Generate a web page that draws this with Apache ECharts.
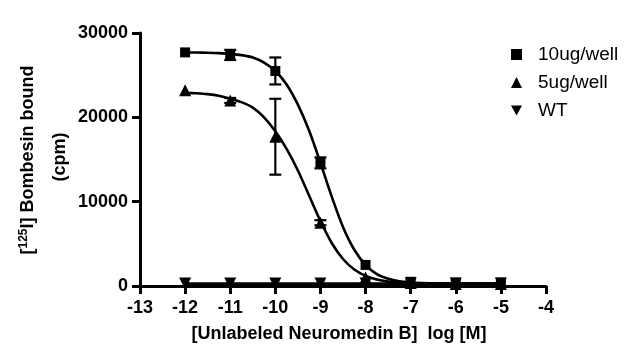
<!DOCTYPE html>
<html>
<head>
<meta charset="utf-8">
<script src="https://cdn.jsdelivr.net/npm/echarts@6/dist/echarts.min.js"></script>
<style>html,body{margin:0;padding:0;background:#fff}#c{width:640px;height:356px}</style>
</head>
<body>
<div id="c"></div>
<script>
// measured points (log[M], cpm)
var doseX = [-12, -11, -10, -9, -8, -7, -6, -5];
var pts10 = [27700, 27400, 25500, 14600, 2500, 500, 400, 400];
var err10 = [0, 600, 1600, 650, 0, 0, 0, 0];
var pts5 = [23200, 22000, 17700, 7500, 1000, 350, 250, 250];
var err5 = [0, 300, 4500, 300, 0, 0, 0, 0];
var ptsWT = [300, 300, 300, 300, 300, 300, 300, 300];
// fitted curves (every 0.25 log unit)
var curveX = [-12, -11.75, -11.5, -11.25, -11, -10.75, -10.5, -10.25, -10, -9.75, -9.5, -9.25, -9, -8.75, -8.5, -8.25, -8, -7.75, -7.5, -7.25, -7, -6.75, -6.5, -6.25, -6, -5.75, -5.5, -5.25, -5];
var curve10 = [27700, 27690, 27660, 27610, 27530, 27380, 27100, 26500, 25500, 23900, 21500, 18400, 14600, 10600, 7000, 4300, 2500, 1400, 850, 550, 420, 360, 330, 310, 300, 300, 300, 300, 300];
var curve5 = [22900, 22850, 22750, 22550, 22200, 21800, 21150, 20000, 18350, 16250, 13700, 10700, 7700, 5100, 3200, 1950, 1200, 760, 520, 390, 330, 300, 285, 275, 270, 270, 270, 270, 270];
var curveWT = [250, 250, 250, 250, 250, 250, 250, 250, 250, 250, 250, 250, 250, 250, 250, 250, 250, 250, 250, 250, 250, 250, 250, 250, 250, 250, 250, 250, 250];
var xTicks = {min: -13, max: -4, step: 1};
var yTicks = {min: 0, max: 30000, step: 10000};
var seriesNames = ['10ug/well', '5ug/well', 'WT'];
var xTitle = '[Unlabeled Neuromedin B]  log [M]';

function pairs(xs, ys) { return xs.map(function (x, i) { return [x, ys[i]]; }); }
function errData(xs, ys, es) {
  var out = [];
  xs.forEach(function (x, i) { if (es[i] > 0) out.push([x, ys[i] - es[i], ys[i] + es[i]]); });
  return out;
}
var FONT = '"Liberation Sans", Arial, sans-serif';
function errSeries(data) {
  return {
    type: 'custom', data: data, silent: true, z: 3,
    renderItem: function (params, api) {
      var x = api.value(0);
      var lo = api.coord([x, api.value(1)]);
      var hi = api.coord([x, api.value(2)]);
      var w = 6;
      var st = {stroke: '#000', lineWidth: 2.2};
      return {type: 'group', children: [
        {type: 'line', shape: {x1: lo[0], y1: lo[1], x2: hi[0], y2: hi[1]}, style: st},
        {type: 'line', shape: {x1: lo[0] - w, y1: lo[1], x2: lo[0] + w, y2: lo[1]}, style: st},
        {type: 'line', shape: {x1: hi[0] - w, y1: hi[1], x2: hi[0] + w, y2: hi[1]}, style: st}
      ]};
    }
  };
}
function curveSeries(ys, w) {
  return {type: 'line', data: pairs(curveX, ys), symbol: 'none', smooth: 0.3,
    lineStyle: {color: '#000', width: w || 2.6}, silent: true, z: 2};
}
var chart = echarts.init(document.getElementById('c'), null, {renderer: 'canvas'});
chart.setOption({
  animation: false,
  backgroundColor: '#fff',
  grid: {left: 140, right: 94, top: 33, bottom: 70},
  xAxis: {
    type: 'value', min: xTicks.min, max: xTicks.max, interval: xTicks.step,
    axisLine: {lineStyle: {color: '#000', width: 3}},
    axisTick: {length: 8, lineStyle: {color: '#000', width: 3}},
    splitLine: {show: false},
    axisLabel: {color: '#000', fontSize: 18, fontWeight: 'bold', fontFamily: FONT, margin: 13,
      formatter: function (v) { return String(v); }}
  },
  yAxis: {
    type: 'value', min: yTicks.min, max: yTicks.max, interval: yTicks.step,
    axisLine: {show: true, lineStyle: {color: '#000', width: 3}},
    axisTick: {show: true, length: 8, lineStyle: {color: '#000', width: 3}},
    splitLine: {show: false},
    axisLabel: {color: '#000', fontSize: 18, fontWeight: 'bold', fontFamily: FONT, margin: 12,
      formatter: function (v) { return String(v); }}
  },
  legend: {
    orient: 'vertical', left: 506, top: 40, itemWidth: 11, itemHeight: 11, itemGap: 9,
    textStyle: {color: '#000', fontSize: 19, fontFamily: FONT, padding: [0, 0, 0, 11]},
    data: [
      {name: seriesNames[0], icon: 'rect'},
      {name: seriesNames[1], icon: 'triangle'},
      {name: seriesNames[2], icon: 'path://M0,0 L10,0 L5,9 Z'}
    ]
  },
  graphic: [
    {type: 'text', x: 28, y: 160, rotation: Math.PI / 2,
      style: {text: '[{sup|125}I] Bombesin bound', align: 'center', verticalAlign: 'middle',
        fill: '#000', font: 'bold 18px ' + FONT,
        rich: {sup: {fontSize: 12, fontWeight: 'bold', fontFamily: FONT, verticalAlign: 'top', padding: [0, 0, 8, 0]}}}},
    {type: 'text', x: 60, y: 157, rotation: Math.PI / 2,
      style: {text: '(cpm)', align: 'center', verticalAlign: 'middle', fill: '#000', font: 'bold 18px ' + FONT}},
    {type: 'text', x: 339, y: 334,
      style: {text: xTitle, align: 'center', verticalAlign: 'middle', fill: '#000', font: 'bold 18px ' + FONT}}
  ],
  series: [
    curveSeries(curve10),
    curveSeries(curve5),
    curveSeries(curveWT, 3.5),
    errSeries(errData(doseX, pts10, err10)),
    errSeries(errData(doseX, pts5, err5)),
    {name: seriesNames[0], type: 'scatter', data: pairs(doseX, pts10), symbol: 'rect', symbolSize: 10,
      itemStyle: {color: '#000', opacity: 1}, z: 4},
    {name: seriesNames[1], type: 'scatter', data: pairs(doseX, pts5), symbol: 'triangle', symbolSize: 12,
      itemStyle: {color: '#000', opacity: 1}, z: 4},
    {name: seriesNames[2], type: 'scatter', data: pairs(doseX, ptsWT), symbol: 'triangle', symbolRotate: 180, symbolSize: 12,
      itemStyle: {color: '#000', opacity: 1}, z: 4}
  ]
});
</script>
</body>
</html>
